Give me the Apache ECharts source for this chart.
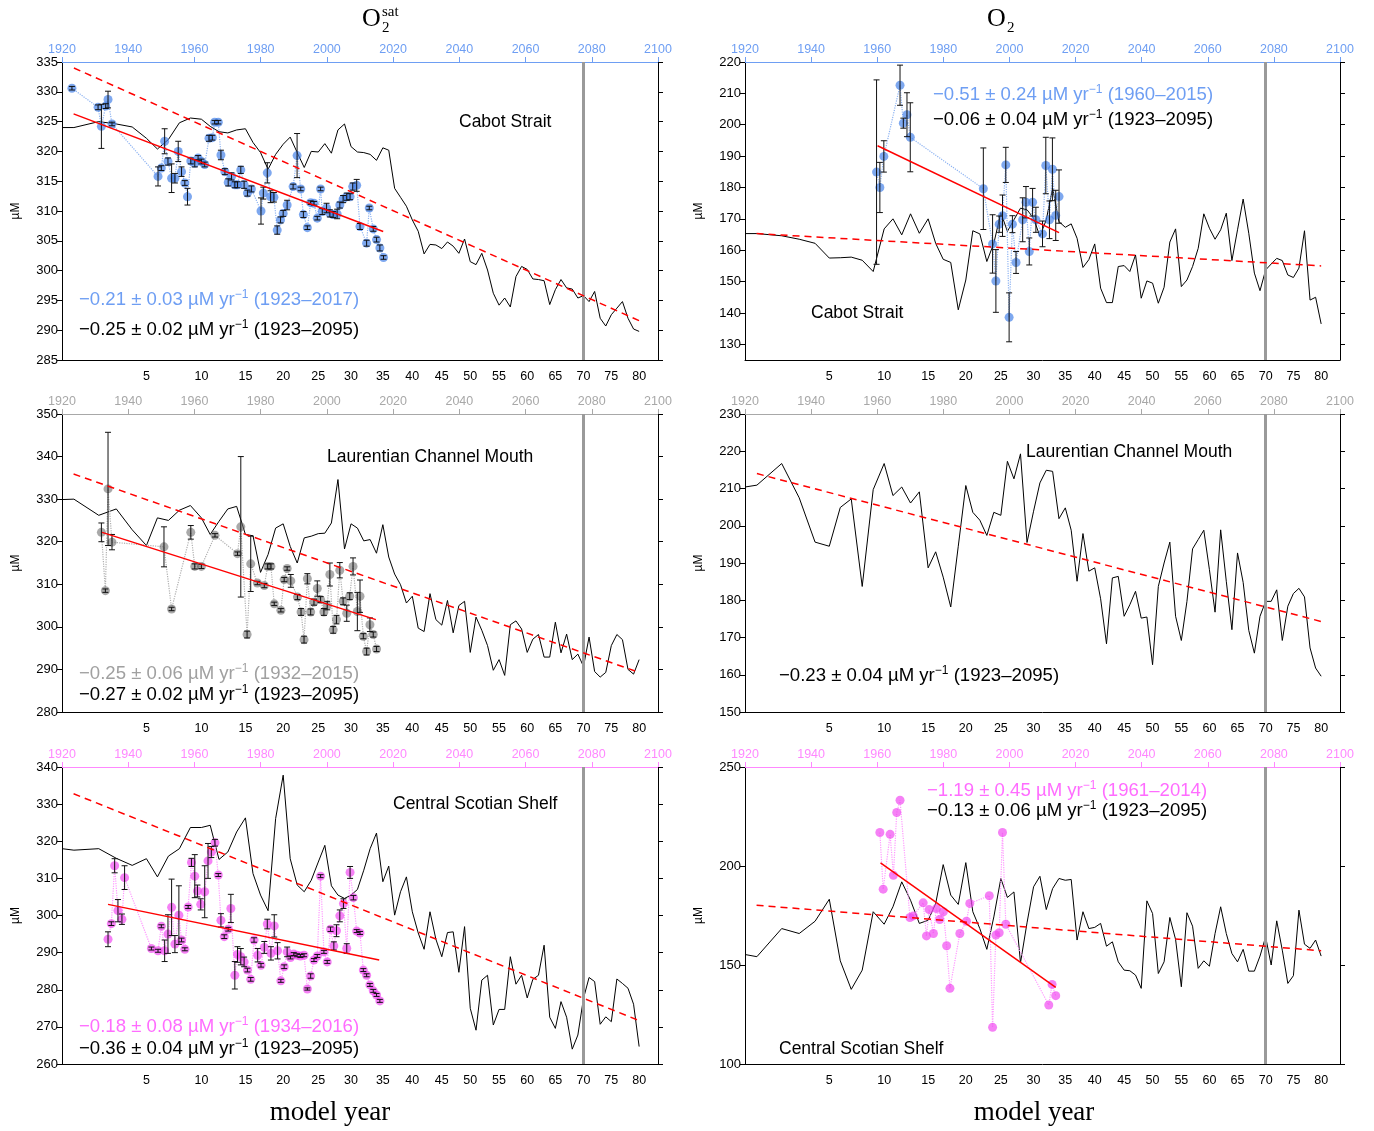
<!DOCTYPE html>
<html><head><meta charset="utf-8">
<script src="https://cdn.jsdelivr.net/npm/echarts/dist/echarts.min.js"></script>
<style>html,body{margin:0;padding:0;background:#fff}#c{width:1374px;height:1131px}</style>
</head><body><div id="c"></div>
<script>
// ---------- model-year axis (model year -> calendar year) ----------
const modelTickYear = [0,1,2,3,4,5,10,15,20,25,30,35,40,45,50,55,60,65,70,75,80];
const modelTickCal  = [1920,1923.6,1931.1,1936.4,1941.2,1945.5,1962.1,1975.4,1986.8,1997.4,2007.3,2016.9,2025.8,2034.7,2043.3,2052.0,2060.5,2069.0,2077.5,2085.9,2094.3];
const bottomLabels = [5,10,15,20,25,30,35,40,45,50,55,60,65,70,75,80];
const topLabels = [1920,1940,1960,1980,2000,2020,2040,2060,2080,2100];

// ---------- model series (model years 0..80) ----------
const p1Model = [324.0,324.0,325.0,324.6,324.1,322.2,320.4,322.0,324.8,325.6,
 325.4,324.2,323.3,323.1,323.6,323.8,321.5,319.8,317.0,319.5,
 321.2,322.4,319.8,317.3,320.0,319.9,321.3,319.7,323.6,324.6,
 320.8,319.9,319.8,319.5,318.5,320.6,320.2,313.8,312.3,310.8,
 308.5,306.6,302.8,304.4,304.3,303.7,304.8,304.1,302.9,305.3,
 301.5,301.0,302.9,300.1,296.2,294.2,295.4,293.9,299.0,300.7,
 300.2,298.6,298.5,298.3,294.3,296.8,298.5,297.1,296.9,295.4,
 295.8,294.8,296.5,292.0,290.7,292.6,293.7,294.8,292.0,290.2,
 289.8];
const p2Model = [165.3,165.3,164.6,163.5,162.2,157.5,157.6,157.8,156.8,153.2,
 166.8,170.0,164.9,171.6,165.4,170.0,162.2,157.1,156.1,141.0,
 150.5,166.2,165.2,156.4,162.2,172.0,166.0,169.7,173.4,172.9,
 170.2,164.4,169.7,179.8,169.1,167.3,168.4,163.8,154.5,157.0,
 162.0,147.9,143.3,143.3,154.8,155.1,153.2,158.5,144.7,150.2,
 149.5,143.1,148.2,162.6,166.8,148.4,150.5,154.8,160.6,171.6,
 167.0,163.5,166.5,171.8,156.7,166.5,176.3,165.4,152.7,147.1,
 153.7,155.6,157.4,156.7,152.1,151.3,154.3,166.2,144.1,145.0,
 136.5];
const p3Model = [329.9,330.0,326.2,327.7,322.8,319.1,325.6,325.0,327.4,328.5,
 325.6,321.7,324.8,327.7,328.3,321.7,321.4,312.8,317.0,323.2,
 324.2,318.9,315.0,320.9,321.3,321.9,322.0,324.4,334.6,318.3,
 324.2,323.2,320.2,320.5,317.3,324.0,316.4,312.4,309.9,305.6,
 307.2,299.7,298.9,307.8,301.7,300.4,306.2,298.6,305.0,306.0,
 294.0,302.3,299.2,295.6,289.8,292.3,288.6,300.5,301.4,299.5,
 294.0,297.1,298.2,292.9,292.9,301.1,293.9,298.3,292.3,293.6,
 290.7,297.6,289.5,288.2,289.3,295.6,298.2,297.0,290.0,288.9,
 292.3];
const p4Model = [210.4,210.9,216.7,207.5,195.6,194.5,204.9,207.2,183.7,209.7,
 216.7,208.1,210.4,206.1,209.1,188.7,193.0,186.2,178.2,194.5,
 210.8,203.6,201.5,197.4,203.6,202.8,217.3,212.6,219.3,195.5,
 203.9,211.5,214.9,214.6,201.9,204.8,198.8,185.1,197.9,187.8,
 188.7,180.4,168.3,186.0,186.4,175.7,178.8,182.4,175.2,175.5,
 162.7,183.7,190.0,195.6,175.7,169.2,179.7,193.8,196.3,198.8,
 188.2,176.8,198.9,185.1,172.1,192.7,184.8,171.9,165.8,175.7,
 179.7,179.7,182.8,169.2,178.4,181.8,183.2,180.9,167.2,161.8,
 159.6];
const p5Model = [318.0,317.6,318.0,315.4,313.5,315.3,310.4,316.0,318.0,323.7,
 323.7,324.3,315.1,317.1,322.5,326.3,311.3,305.5,301.3,326.1,
 337.8,315.3,308.2,306.4,309.5,314.4,318.9,308.0,305.5,304.6,
 305.5,307.0,312.2,318.0,322.2,309.1,313.3,300.1,306.4,310.4,
 301.0,295.3,290.9,301.0,293.6,288.9,295.4,295.6,284.7,297.0,
 275.0,269.1,282.6,283.9,270.5,274.7,274.7,288.9,281.5,283.9,
 277.8,282.8,283.9,292.0,272.6,269.6,276.8,272.6,264.0,267.8,
 277.7,283.3,282.2,270.7,272.7,271.4,282.9,281.7,280.4,276.1,
 264.7];
const p6Model = [155.3,154.2,168.4,165.9,172.1,183.2,152.1,137.7,147.4,176.9,
 170.6,179.4,192.0,182.7,171.0,172.6,181.0,200.7,185.3,180.6,
 201.7,176.9,168.4,157.9,174.3,193.7,184.1,186.9,151.1,171.3,
 189.5,194.8,178.0,188.6,193.7,192.8,193.2,162.6,176.9,168.4,
 169.0,171.0,159.5,161.7,151.6,147.4,147.1,144.9,138.2,182.4,
 176.0,145.7,151.6,174.0,162.9,139.0,176.4,169.6,148.3,152.1,
 149.4,165.9,179.4,165.9,155.8,151.6,157.9,146.9,146.9,154.5,
 164.2,150.0,172.3,157.5,140.7,144.6,177.7,160.5,158.4,162.6,
 154.5];

// ---------- observations ----------
const p1Year = [1923.0,1930.9,1931.9,1933.2,1933.9,1935.1,1949.0,1950.0,1951.0,1952.0,1953.1,1954.1,1955.1,1956.1,1957.1,1957.9,1958.9,1960.1,1961.1,1962.1,1963.1,1964.4,1965.4,1966.1,1967.2,1968.0,1969.2,1970.2,1971.2,1972.2,1973.0,1974.0,1975.0,1976.0,1977.2,1980.1,1980.8,1982.0,1983.0,1984.0,1985.0,1986.0,1986.8,1988.0,1989.8,1991.0,1992.1,1992.9,1994.1,1995.1,1996.1,1997.1,1998.1,1998.6,1999.9,2000.9,2001.9,2003.1,2003.9,2004.9,2006.0,2007.0,2007.8,2009.0,2010.0,2012.0,2012.8,2014.0,2015.0,2016.0,2017.1];
const p1Val  = [330.6,327.4,324.2,327.6,328.7,324.6,315.8,317.2,321.7,318.3,315.5,315.5,320.0,316.6,314.7,312.4,318.4,318.0,318.9,318.3,317.8,322.2,322.3,324.9,324.9,319.4,316.6,314.8,315.8,314.4,314.4,316.9,314.4,313.0,313.7,310.0,313.0,316.4,312.4,312.3,306.8,308.5,309.6,311.0,314.1,319.3,313.7,309.4,307.2,311.4,311.3,308.8,313.7,309.9,310.5,309.6,309.4,309.5,311.0,312.0,312.4,312.4,314.1,314.3,307.4,304.6,310.5,307.0,305.2,303.8,302.2];
const p1Err  = [0.3,0.4,3.7,0.4,1.4,0.3,1.6,0.4,2.1,0.6,2.4,0.8,1.7,0.8,0.4,1.4,0.5,0.6,0.4,0.4,0.4,0.5,0.4,0.3,0.3,0.8,0.5,0.6,0.6,0.5,0.5,0.6,0.6,0.5,0.5,2.2,1.0,1.7,1.0,0.8,0.7,0.5,0.5,0.8,0.4,3.7,0.3,0.5,0.3,0.3,0.3,0.3,0.3,0.5,0.8,0.6,0.5,0.8,0.5,0.6,0.6,0.5,0.6,1.0,0.5,0.5,0.3,0.4,0.4,0.5,0.3];

const p2Year = [1959.8,1960.8,1962.0,1966.9,1967.9,1969.0,1970.0,1992.1,1994.9,1995.9,1996.9,1997.9,1998.9,1999.9,2000.9,2002.0,2004.0,2005.0,2006.0,2007.0,2008.0,2010.0,2011.0,2012.1,2013.0,2014.0,2015.0];
const p2Val  = [184.9,180.0,189.9,212.6,200.5,203.2,196.0,179.6,162.0,150.2,168.3,171.0,187.2,138.6,168.3,156.1,169.7,175.3,159.6,175.3,169.7,165.2,187.0,169.7,185.8,171.1,177.1];
const p2Err  = [29.4,8.0,5.0,6.4,1.6,7.0,11.0,13.0,9.3,10.0,2.6,6.6,5.6,7.8,2.7,3.5,7.0,5.0,4.3,4.4,4.0,4.1,9.0,6.0,10.0,8.0,8.5];

const p3Year = [1931.9,1933.1,1933.9,1935.1,1950.8,1953.1,1958.9,1960.1,1962.1,1966.2,1973.0,1974.0,1975.9,1977.0,1979.0,1981.1,1982.1,1983.1,1984.1,1986.1,1987.1,1988.0,1989.1,1991.1,1992.2,1993.1,1994.1,1995.1,1996.1,1997.1,1998.1,1999.1,2000.1,2000.9,2001.9,2002.9,2003.9,2004.9,2006.0,2006.9,2007.9,2009.2,2010.0,2011.0,2012.0,2013.0,2014.0,2015.0];
const p3Val  = [322.2,308.5,332.4,319.9,318.8,304.2,322.2,314.2,314.2,321.5,317.2,323.5,298.2,314.8,310.3,309.7,314.2,314.2,305.4,303.9,311.1,313.7,310.8,307.0,303.5,297.0,311.3,303.5,305.8,309.0,306.4,303.5,305.0,312.3,299.3,301.7,313.3,306.0,303.2,307.2,314.2,303.6,307.2,297.8,294.2,300.5,298.2,294.8];
const p3Err  = [2.2,0.4,13.3,1.8,4.7,0.4,1.6,0.6,0.5,0.4,0.4,16.5,0.8,6.5,0.4,0.5,0.6,0.6,0.4,0.4,0.5,0.4,1.5,0.6,0.8,0.8,1.2,0.7,0.7,1.8,0.7,0.8,1.0,2.7,0.8,1.0,1.8,0.8,1.9,0.8,2.0,4.5,3.8,0.6,0.8,1.6,0.6,0.6];

const p5Year = [1933.9,1934.9,1935.9,1936.9,1938.1,1938.9,1947.0,1949.0,1950.0,1951.0,1952.0,1953.1,1954.1,1955.3,1956.1,1957.1,1958.1,1959.1,1960.1,1960.9,1961.9,1963.1,1964.1,1965.1,1966.2,1967.2,1968.0,1969.0,1970.2,1971.0,1972.2,1973.0,1974.0,1975.0,1976.0,1977.0,1978.0,1979.1,1980.1,1981.1,1982.0,1983.1,1984.1,1985.1,1986.1,1987.1,1988.0,1989.0,1990.0,1991.0,1992.0,1993.1,1994.1,1995.1,1996.1,1997.1,1998.1,1999.1,2000.1,2001.1,2002.1,2002.9,2003.9,2005.0,2006.0,2007.0,2008.0,2009.0,2010.0,2011.0,2012.0,2013.0,2014.0,2015.0,2016.0];
const p5Val  = [293.6,297.8,313.4,301.3,299.0,310.2,291.1,290.5,297.1,290.5,295.0,302.2,292.3,300.1,293.4,290.9,302.3,314.3,310.6,306.6,303.0,306.4,314.7,317.1,319.6,310.9,298.7,294.3,296.3,301.9,283.9,289.5,288.9,287.5,285.3,282.8,293.4,289.3,286.6,291.4,297.7,289.8,297.2,290.5,282.4,286.2,290.2,288.7,289.6,289.3,289.1,289.3,280.2,283.7,288.0,289.1,310.6,290.2,287.5,296.3,291.8,295.9,299.9,303.2,291.1,311.6,304.8,295.8,295.3,285.3,283.9,281.3,279.7,278.6,277.0];
const p5Err  = [2.0,0.5,1.9,3.0,1.4,3.2,0.4,0.4,0.4,2.9,5.2,7.6,2.3,7.9,0.5,0.4,0.4,1.1,5.8,1.6,1.5,7.0,4.7,1.5,0.9,0.4,1.8,0.5,0.5,3.8,3.7,2.1,2.2,1.3,0.5,0.5,0.6,1.8,0.5,1.6,1.3,1.8,3.0,2.2,0.4,0.5,1.3,0.4,0.4,0.4,0.4,0.4,0.3,0.6,0.4,0.4,0.4,0.4,0.4,0.6,1.1,1.6,1.6,1.3,1.3,1.6,0.6,0.4,0.4,0.4,0.4,0.4,0.4,0.4,0.4];

const p6Year = [1960.8,1961.8,1963.9,1964.9,1965.9,1966.9,1969.9,1970.9,1973.9,1974.9,1975.7,1977.0,1977.9,1978.9,1980.0,1981.0,1982.0,1985.0,1987.0,1988.0,1993.9,1994.9,1995.9,1996.9,1997.9,1998.9,2011.9,2012.9,2014.0];
const p6Val  = [216.9,188.3,216.0,195.3,227.0,233.2,174.0,174.8,181.4,164.7,178.0,165.9,178.5,173.0,176.9,159.7,138.2,165.9,172.1,181.1,185.0,118.5,165.1,166.3,216.9,170.6,129.8,140.2,134.5];

// ---------- linear trends (start / end points, data space) ----------
const p1ObsFit = [[1923.5,326.3],[2017.0,306.55]];
const p1ModFit = [[1923.6,334.0],[2094.3,291.6]];
const p2ObsFit = [[1960.1,193.3],[2015.0,165.6]];
const p2ModFit = [[1923.5,165.3],[2094.3,155.0]];
const p3ObsFit = [[1932.1,322.2],[2014.8,301.7]];
const p3ModFit = [[1923.5,335.9],[2094.3,289.3]];
const p4ModFit = [[1923.6,214.0],[2094.3,174.3]];
const p5ObsFit = [[1933.9,303.0],[2015.8,288.0]];
const p5ModFit = [[1923.5,332.8],[2094.3,271.7]];
const p6ObsFit = [[1961.0,201.6],[2014.0,138.7]];
const p6ModFit = [[1923.5,180.2],[2094.3,157.2]];

const FONT = "'Liberation Sans', Arial, Helvetica, sans-serif";
const SERIF = "'Liberation Serif', 'DejaVu Serif', serif";

function calOf(m){
  for (let i=0;i<modelTickYear.length-1;i++){
    const a=modelTickYear[i], b=modelTickYear[i+1];
    if (m>=a && m<=b) return modelTickCal[i]+(m-a)/(b-a)*(modelTickCal[i+1]-modelTickCal[i]);
  }
  return modelTickCal[modelTickCal.length-1];
}
const bottomCal = bottomLabels.map(calOf);

const BLUE = {axis:'#6e9ef3', pt:'rgba(66,128,232,0.85)', dot:'#8cb2f2', text:'#6e9ef3'};
const GRAY = {axis:'#a8a8a8', pt:'rgba(105,105,105,0.72)', dot:'#b0b0b0', text:'#a0a0a0'};
const MAG  = {axis:'#ff88ff', pt:'rgba(240,70,240,0.85)', dot:'#ff99ff', text:'#ff6cff'};

const panels = [
  {g:[62,62,596,298], y:[285,335], yi:5, c:BLUE, model:p1Model, obs:[p1Year,p1Val,p1Err], of:p1ObsFit, mf:p1ModFit},
  {g:[745,62,595,298], y:[125,220], yt:[130,140,150,160,170,180,190,200,210,220], c:BLUE, model:p2Model, obs:[p2Year,p2Val,p2Err], of:p2ObsFit, mf:p2ModFit},
  {g:[62,414,596,298], y:[280,350], yi:10, c:GRAY, model:p3Model, obs:[p3Year,p3Val,p3Err], of:p3ObsFit, mf:p3ModFit},
  {g:[745,414,595,298], y:[150,230], yi:10, c:GRAY, model:p4Model, obs:null, of:null, mf:p4ModFit},
  {g:[62,767,596,297], y:[260,340], yi:10, c:MAG, model:p5Model, obs:[p5Year,p5Val,p5Err], of:p5ObsFit, mf:p5ModFit},
  {g:[745,767,595,297], y:[100,250], yi:50, c:MAG, model:p6Model, obs:[p6Year,p6Val,null], of:p6ObsFit, mf:p6ModFit}
];

const grid=[], xAxis=[], yAxis=[], series=[];
panels.forEach((p,i)=>{
  grid.push({left:p.g[0], top:p.g[1], width:p.g[2], height:p.g[3]});
  xAxis.push({type:'value', gridIndex:i, position:'top', min:1920, max:2100, interval:20,
    axisLine:{show:true, lineStyle:{color:p.c.axis, width:1.2}},
    axisTick:{show:true, length:5, lineStyle:{color:p.c.axis}},
    axisLabel:{customValues:topLabels, color:p.c.axis, fontSize:12.5, fontFamily:FONT, margin:6, formatter:(v)=>String(Math.round(v))},
    splitLine:{show:false}});
  xAxis.push({type:'value', gridIndex:i, position:'bottom', min:1920, max:2100,
    axisLine:{show:true, lineStyle:{color:'#000', width:1}},
    axisTick:{show:false},
    axisLabel:{customValues:bottomCal, color:'#000', fontSize:12.5, fontFamily:FONT, margin:10,
      formatter:(v)=>{ let k=0, d=1e9; bottomCal.forEach((c,j)=>{ if(Math.abs(c-v)<d){d=Math.abs(c-v);k=j;} }); return String(bottomLabels[k]); }},
    splitLine:{show:false}});
  const yl = {type:'value', gridIndex:i, position:'left', min:p.y[0], max:p.y[1],
    axisLine:{show:true, lineStyle:{color:'#000', width:1}},
    axisTick:{show:true, length:5, lineStyle:{color:'#000'}},
    axisLabel:{color:'#000', fontSize:13, fontFamily:FONT, margin:4, showMinLabel:true, showMaxLabel:true},
    splitLine:{show:false},
    name:'µM', nameLocation:'middle', nameGap:40, nameTextStyle:{fontSize:12, fontFamily:FONT, color:'#000'}};
  const yr = {type:'value', gridIndex:i, position:'right', min:p.y[0], max:p.y[1],
    axisLine:{show:true, lineStyle:{color:'#000', width:1}},
    axisTick:{show:true, length:5, lineStyle:{color:'#000'}},
    axisLabel:{show:false}, splitLine:{show:false}};
  if (p.yt){
    yl.axisLabel.customValues=p.yt; yl.axisTick.customValues=p.yt;
    yr.axisLabel.customValues=p.yt; yr.axisTick.customValues=p.yt;
  } else { yl.interval=p.yi; yr.interval=p.yi; }
  yAxis.push(yl); yAxis.push(yr);

  const xi=2*i, yi=2*i;
  series.push({type:'line', xAxisIndex:xi, yAxisIndex:yi, data:p.model.map((v,m)=>[calOf(m),v]),
    symbol:'none', lineStyle:{color:'#000', width:1}, z:2, animation:false,
    markLine:{silent:true, symbol:'none', label:{show:false}, animation:false,
      lineStyle:{color:'#9a9a9a', width:3, type:'solid'}, data:[{xAxis:calOf(70)}]}});
  if (p.obs){
    const [yrs, vals, errs] = p.obs;
    const pts = yrs.map((x,k)=>[x, vals[k]]);
    series.push({type:'line', xAxisIndex:xi, yAxisIndex:yi, data:pts, symbol:'none',
      lineStyle:{color:p.c.dot, width:1.2, type:'dotted'}, z:3, animation:false});
    series.push({type:'scatter', xAxisIndex:xi, yAxisIndex:yi, data:pts, symbolSize:9,
      itemStyle:{color:p.c.pt}, z:4, animation:false});
    if (errs){
      series.push({type:'custom', xAxisIndex:xi, yAxisIndex:yi, z:5, animation:false,
        data:yrs.map((x,k)=>[x, vals[k]-errs[k], vals[k]+errs[k]]),
        encode:{x:0, y:[1,2]},
        renderItem:(params, api)=>{
          const a=api.coord([api.value(0), api.value(1)]);
          const b=api.coord([api.value(0), api.value(2)]);
          const w=3, st={stroke:'#111', lineWidth:1};
          return {type:'group', children:[
            {type:'line', shape:{x1:a[0],y1:a[1],x2:b[0],y2:b[1]}, style:st},
            {type:'line', shape:{x1:a[0]-w,y1:a[1],x2:a[0]+w,y2:a[1]}, style:st},
            {type:'line', shape:{x1:b[0]-w,y1:b[1],x2:b[0]+w,y2:b[1]}, style:st}]};
        }});
    }
  }
  series.push({type:'line', xAxisIndex:xi, yAxisIndex:yi, data:p.mf, symbol:'none',
    lineStyle:{color:'#ff0000', width:1.5, type:[7,5]}, z:6, animation:false});
  if (p.of){
    series.push({type:'line', xAxisIndex:xi, yAxisIndex:yi, data:p.of, symbol:'none',
      lineStyle:{color:'#ff0000', width:1.5}, z:6, animation:false});
  }
});

function trendText(x, y, color, main, period){
  return {type:'text', x:x, y:y, z:100,
    style:{text:'{a|'+main+'}{s|−1}{a| '+period+'}', verticalAlign:'middle', textVerticalAlign:'middle',
      rich:{a:{fontSize:18.6, fontFamily:FONT, fill:color, color:color, lineHeight:22},
            s:{fontSize:12, fontFamily:FONT, fill:color, color:color, lineHeight:22, verticalAlign:'top'}}}};
}
function label(x, y, txt){
  return {type:'text', x:x, y:y, z:100, style:{text:txt, font:'17.5px '+FONT, fill:'#000', verticalAlign:'middle', textVerticalAlign:'middle'}};
}
function serif(x, y, txt, size, align){
  return {type:'text', x:x, y:y, z:100, style:{text:txt, font:size+'px '+SERIF, fill:'#000', align:align||'left', textAlign:align||'left', verticalAlign:'middle', textVerticalAlign:'middle'}};
}
const graphic = [
  serif(362,19,'O',26), serif(382,12,'sat',15), serif(382,28,'2',15),
  serif(987,19,'O',26), serif(1007,28,'2',15),
  serif(330,1113,'model year',27,'center'), serif(1034,1113,'model year',27,'center'),
  label(459,122,'Cabot Strait'),
  trendText(79,300,BLUE.text,'−0.21 ± 0.03 µM yr','(1923–2017)'),
  trendText(79,330,'#000','−0.25 ± 0.02 µM yr','(1923–2095)'),
  trendText(933,95,BLUE.text,'−0.51 ± 0.24 µM yr','(1960–2015)'),
  trendText(933,120,'#000','−0.06 ± 0.04 µM yr','(1923–2095)'),
  label(811,313,'Cabot Strait'),
  label(327,457,'Laurentian Channel Mouth'),
  trendText(79,674,GRAY.text,'−0.25 ± 0.06 µM yr','(1932–2015)'),
  trendText(79,695,'#000','−0.27 ± 0.02 µM yr','(1923–2095)'),
  label(1026,452,'Laurentian Channel Mouth'),
  trendText(779,676,'#000','−0.23 ± 0.04 µM yr','(1923–2095)'),
  label(393,804,'Central Scotian Shelf'),
  trendText(79,1027,MAG.text,'−0.18 ± 0.08 µM yr','(1934–2016)'),
  trendText(79,1049,'#000','−0.36 ± 0.04 µM yr','(1923–2095)'),
  trendText(927,791,MAG.text,'−1.19 ± 0.45 µM yr','(1961–2014)'),
  trendText(927,811,'#000','−0.13 ± 0.06 µM yr','(1923–2095)'),
  label(779,1049,'Central Scotian Shelf')
];

const chart = echarts.init(document.getElementById('c'), null, {renderer:'canvas'});
chart.setOption({animation:false, backgroundColor:'#fff', grid, xAxis, yAxis, series, graphic});
</script></body></html>
